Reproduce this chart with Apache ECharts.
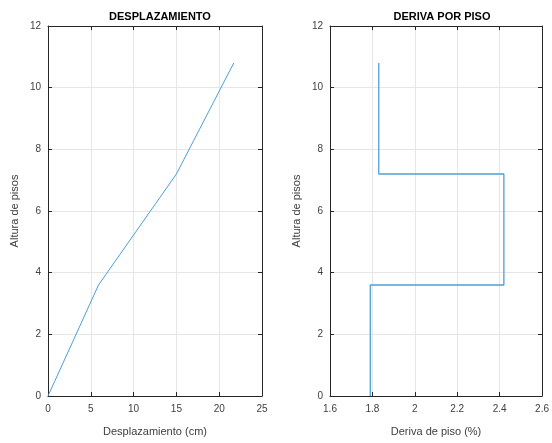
<!DOCTYPE html>
<html><head><meta charset="utf-8">
<script src="https://cdn.jsdelivr.net/npm/echarts@6/dist/echarts.min.js"></script>
<style>html,body{margin:0;padding:0;background:#fff}#c{width:552px;height:443px}</style>
</head><body><div id="c"></div>
<script>
const alturas = [0, 3.6, 7.2, 10.8];
const desplazamiento = [0, 5.9, 15.0, 21.7];
const deriva = [1.79, 2.42, 1.83];
const yTicks = [0, 2, 4, 6, 8, 10, 12];
const xTicksDesp = [0, 5, 10, 15, 20, 25];
const xTicksDeriva = [1.6, 1.8, 2.0, 2.2, 2.4, 2.6];

const dispPts = alturas.map((h, i) => [desplazamiento[i], h]);
const stairPts = [];
deriva.forEach((d, i) => { stairPts.push([d, alturas[i]]); stairPts.push([d, alturas[i + 1]]); });

const font = 'Liberation Sans, Arial, sans-serif';
const txt = '#404040';
const lineColor = '#4d9fd6';
const grids = [
  {left: 48, top: 26, width: 214, height: 370},
  {left: 330, top: 26, width: 214, height: 370}
];
function xAx(gi, min, max, interval, name, pos, main) {
  return {
    type: 'value', gridIndex: gi, min, max, interval, position: pos,
    name: main ? name : '', nameLocation: 'middle', nameGap: 30,
    nameTextStyle: {color: txt, fontSize: 11, fontFamily: font},
    axisLine: {show: true, onZero: false, lineStyle: {color: '#262626', width: 1}},
    axisTick: {show: true, inside: true, length: 4, lineStyle: {color: '#262626'}},
    axisLabel: {show: main, color: txt, fontSize: 10, fontFamily: font, margin: 8,
      formatter: v => String(Math.round(v * 10) / 10)},
    splitLine: {show: main, lineStyle: {color: '#e6e6e6', width: 1}}
  };
}
function yAx(gi, pos, main) {
  return {
    type: 'value', gridIndex: gi, min: yTicks[0], max: yTicks[yTicks.length - 1], interval: 2, position: pos,
    name: main ? 'Altura de pisos' : '', nameLocation: 'middle', nameGap: 28, nameRotate: 90,
    nameTextStyle: {color: txt, fontSize: 11, fontFamily: font},
    axisLine: {show: true, onZero: false, lineStyle: {color: '#262626', width: 1}},
    axisTick: {show: true, inside: true, length: 4, lineStyle: {color: '#262626'}},
    axisLabel: {show: main, color: txt, fontSize: 10, fontFamily: font, margin: 7},
    splitLine: {show: main, lineStyle: {color: '#e6e6e6', width: 1}}
  };
}
const chart = echarts.init(document.getElementById('c'));
chart.setOption({
  animation: false,
  title: [
    {text: 'DESPLAZAMIENTO', left: 155, top: 6, textAlign: 'center',
     textStyle: {fontSize: 11, fontWeight: 'bold', color: '#000', fontFamily: font}},
    {text: 'DERIVA POR PISO', left: 437, top: 6, textAlign: 'center',
     textStyle: {fontSize: 11, fontWeight: 'bold', color: '#000', fontFamily: font}}
  ],
  grid: grids,
  xAxis: [
    xAx(0, xTicksDesp[0], xTicksDesp[xTicksDesp.length - 1], 5, 'Desplazamiento (cm)', 'bottom', true),
    xAx(0, xTicksDesp[0], xTicksDesp[xTicksDesp.length - 1], 5, '', 'top', false),
    xAx(1, xTicksDeriva[0], xTicksDeriva[xTicksDeriva.length - 1], 0.2, 'Deriva de piso (%)', 'bottom', true),
    xAx(1, xTicksDeriva[0], xTicksDeriva[xTicksDeriva.length - 1], 0.2, '', 'top', false)
  ],
  yAxis: [
    yAx(0, 'left', true), yAx(0, 'right', false),
    yAx(1, 'left', true), yAx(1, 'right', false)
  ],
  series: [
    {type: 'line', xAxisIndex: 0, yAxisIndex: 0, data: dispPts, showSymbol: false,
     lineStyle: {color: lineColor, width: 1}},
    {type: 'line', xAxisIndex: 2, yAxisIndex: 2, data: stairPts, showSymbol: false,
     lineStyle: {color: lineColor, width: 1.3}}
  ]
});
</script></body></html>
